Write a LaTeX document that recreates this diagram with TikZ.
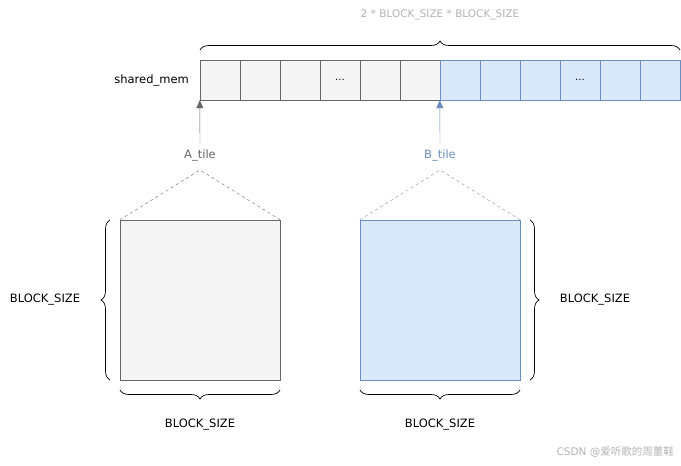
\documentclass[tikz,border=0pt]{standalone}
\usepackage{fontspec}
\setmainfont{DejaVu Sans}
\newfontfamily\cjkfont{Noto Sans CJK SC}
\usetikzlibrary{decorations.pathreplacing,arrows.meta,positioning}
\definecolor{tilegray}{HTML}{F5F5F5}
\definecolor{edgegray}{HTML}{666666}
\definecolor{tileblue}{HTML}{DAE8FC}
\definecolor{edgeblue}{HTML}{6C8EBF}
\definecolor{notegray}{HTML}{B3B3B3}
\tikzset{
    gcell/.style={draw=edgegray,fill=tilegray,minimum width=40pt,minimum height=40pt,inner sep=0pt,font=\fontsize{8}{9}\selectfont},
    bcell/.style={draw=edgeblue,fill=tileblue,minimum width=40pt,minimum height=40pt,inner sep=0pt,font=\fontsize{8}{9}\selectfont},
    lbl/.style={font=\fontsize{11.5}{13}\selectfont,inner sep=1pt},
    brc/.style={decorate,decoration={brace,amplitude=9pt},line width=0.7pt},
    tip/.style={-{Triangle[width=7pt,length=8pt]}},
}
\begin{document}
\begin{tikzpicture}[x=1pt,y=-1pt]
\useasboundingbox (0,0) rectangle (681,466);
%%%%%%%%%%%%%%%%%%%%%%%%%%%%%%%%%%%%%
% shared memory row
\foreach \i in {0,...,5} {
    \node[gcell] (m\i) at (220+40*\i,80) {};
}
\foreach \i in {6,...,11} {
    \node[bcell] (m\i) at (220+40*\i,80) {};
}
\node at (m3) {...};
\node at (m9) {...};
\node[lbl,anchor=east] (shmem) at (190,80) {shared\_mem};
\draw[brc] (200,50) -- (680,50);
\node[lbl,text=notegray,font=\fontsize{10.5}{12}\selectfont] (total) at (440,15) {2 * BLOCK\_SIZE * BLOCK\_SIZE};
%%%%%%%%%%%%%%%%%%%%%%%%%%%%%%%%%%%%%
% A tile
\begin{scope}
    \node[gcell,minimum width=160pt,minimum height=160pt] (sqA) at (200,300) {};
    \node[lbl,text=edgegray,outer sep=4pt] (atile) at (200,155) {A\_tile};
    \coordinate (atop) at (200,170);
    \draw[tip,edgegray] (atile.north) -- (m0.south west);
    \draw[dashed,edgegray] (sqA.north west) -- (atop) -- (sqA.north east);
    \draw[brc] (110,380) -- (110,220);
    \node[lbl] (aside) at (45,300) {BLOCK\_SIZE};
    \draw[brc] (280,390) -- (120,390);
    \node[lbl] (abot) at (200,425) {BLOCK\_SIZE};
\end{scope}
%%%%%%%%%%%%%%%%%%%%%%%%%%%%%%%%%%%%%
% B tile
\begin{scope}
    \node[bcell,minimum width=160pt,minimum height=160pt] (sqB) at (440,300) {};
    \node[lbl,text=edgeblue,outer sep=4pt] (btile) at (440,155) {B\_tile};
    \coordinate (btop) at (440,170);
    \draw[tip,edgeblue] (btile.north) -- (m6.south west);
    \draw[dashed,edgeblue] (sqB.north west) -- (btop) -- (sqB.north east);
    \draw[brc] (530,220) -- (530,380);
    \node[lbl] (bside) at (595,300) {BLOCK\_SIZE};
    \draw[brc] (520,390) -- (360,390);
    \node[lbl] (bbot) at (440,425) {BLOCK\_SIZE};
\end{scope}
\node[lbl,text=notegray,anchor=east,font=\fontsize{10.5}{12}\selectfont] (mark) at (675,452) {CSDN @{\cjkfont 爱听歌的周董鞋}};
\end{tikzpicture}
\end{document}
